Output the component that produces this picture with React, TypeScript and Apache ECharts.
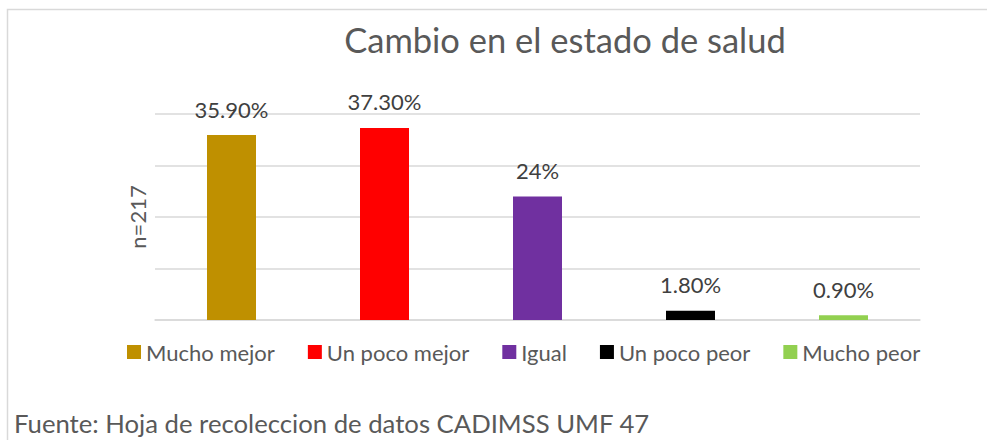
import React, { useEffect, useRef } from "react";
import * as echarts from "echarts";

const categories = ["Mucho mejor", "Un poco mejor", "Igual", "Un poco peor", "Mucho peor"];
const values = [35.9, 37.3, 24, 1.8, 0.9];
const valueLabels = ["35.90%", "37.30%", "24%", "1.80%", "0.90%"];
const colors = ["#BF9000", "#FF0000", "#7030A0", "#000000", "#92D050"];
const titleText = "Cambio en el estado de salud";
const yAxisName = "n=217";
const footerText = "Fuente: Hoja de recoleccion de datos CADIMSS UMF 47";

const FONT = "Lato, 'Open Sans', sans-serif";

export default function App() {
  const ref = useRef<HTMLDivElement>(null);
  useEffect(() => {
    if (!ref.current) return;
    const chart = echarts.init(ref.current, undefined, { renderer: "svg" });
    const series = categories.map((name, i) => ({
      name,
      type: "bar",
      stack: "all",
      barWidth: 49,
      itemStyle: { color: colors[i] },
      data: categories.map((_, j) => (j === i ? values[i] : null)),
      label: {
        show: true,
        position: "top",
        distance: 15,
        color: "#404040",
        fontFamily: FONT,
        fontSize: 22,
        formatter: () => valueLabels[i],
      },
    }));
    chart.setOption({
      animation: false,
      backgroundColor: "#ffffff",
      grid: { left: 155, right: 67, top: 114, bottom: 120 },
      xAxis: {
        type: "category",
        data: categories,
        axisLine: { show: true, lineStyle: { color: "#d9d9d9", width: 1.5 } },
        axisTick: { show: false },
        axisLabel: { show: false },
      },
      yAxis: {
        type: "value",
        min: 0,
        max: 40,
        interval: 10,
        axisLabel: { show: false },
        axisLine: { show: false },
        axisTick: { show: false },
        splitLine: { lineStyle: { color: "#d9d9d9", width: 1.5 } },
      },
      legend: {
        left: 127,
        top: 341,
        padding: 0,
        itemWidth: 14,
        itemHeight: 14,
        itemGap: 33,
        icon: "rect",
        data: categories,
        textStyle: { color: "#595959", fontFamily: FONT, fontSize: 22 },
      },
      graphic: [
        {
          type: "rect",
          shape: { x: 7.5, y: 9.5, width: 1000, height: 450 },
          style: { fill: "none", stroke: "#d9d9d9", lineWidth: 1.5 },
          silent: true,
        },
        {
          type: "text",
          x: 565,
          y: 39,
          style: {
            text: titleText,
            fill: "#595959",
            font: `34.5px ${FONT}`,
            textAlign: "center",
            textVerticalAlign: "middle",
          },
        },
        {
          type: "text",
          x: 137,
          y: 217,
          rotation: Math.PI / 2,
          style: {
            text: yAxisName,
            fill: "#595959",
            font: `22px ${FONT}`,
            textAlign: "center",
            textVerticalAlign: "middle",
          },
        },
        {
          type: "text",
          x: 14,
          y: 423,
          style: {
            text: footerText,
            fill: "#595959",
            font: `25.7px ${FONT}`,
            textAlign: "left",
            textVerticalAlign: "middle",
          },
        },
      ],
      series,
    });
    return () => chart.dispose();
  }, []);
  return (
    <div
      ref={ref}
      style={{ position: "fixed", left: 0, top: 0, width: 987, height: 440, background: "#fff" }}
    />
  );
}
